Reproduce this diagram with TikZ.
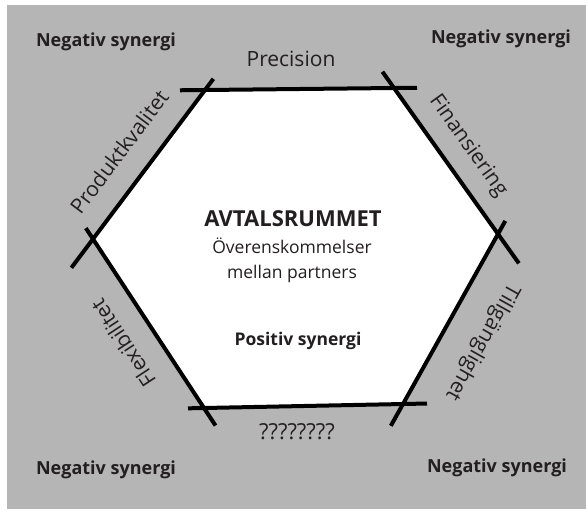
\documentclass[tikz,border=0pt]{standalone}
\usepackage{fontspec}
\setmainfont{Open Sans}
\definecolor{bg}{RGB}{181,181,181}
\definecolor{ink}{RGB}{35,31,32}
\begin{document}
\begin{tikzpicture}[x=1pt,y=-1pt,
  edge/.style={line width=4pt,line cap=butt},
  side/.style={font=\fontsize{21}{24}\selectfont,text=ink,inner sep=0pt},
  neg/.style={font=\bfseries\fontsize{18}{21}\selectfont,text=ink,inner sep=0pt},
]
\useasboundingbox (0,0) rectangle (586,515);
\fill[bg] (7,5) rectangle (586,509);
\coordinate (TL) at (205,90);
\coordinate (TR) at (394,88);
\coordinate (R) at (498,234);
\coordinate (BR) at (403,404);
\coordinate (BL) at (204,408);
\coordinate (L) at (93,239);
\fill[white] (TL)--(TR)--(R)--(BR)--(BL)--(L)--cycle;
\draw[edge,shorten <=-25pt,shorten >=-23pt] (TL) -- (TR);
\draw[edge,shorten <=-20pt,shorten >=-36pt] (TR) -- (R);
\draw[edge,shorten <=-15pt,shorten >=-25pt] (R) -- (BR);
\draw[edge,shorten <=-24pt,shorten >=-16pt] (BR) -- (BL);
\draw[edge,shorten <=-21pt,shorten >=-13pt] (BL) -- (L);
\draw[edge,shorten <=-36pt,shorten >=-14pt] (L) -- (TL);
\node[side] (prec) at (291,59) {Precision};
\node[side,rotate=53.1] (prod) at (119,152) {Produktkvalitet};
\node[side,rotate=-54.5] (fin) at (468,146) {Finansiering};
\node[side,rotate=-119.2] (till) at (482,342) {Tillgänglighet};
\node[side,rotate=123.3] (flex) at (123,343) {Flexibilitet};
\node[side,font=\fontsize{22}{24}\selectfont] (qq) at (297,432) {????????};
\node[neg] (n1) at (106,42) {Negativ synergi};
\node[neg] (n2) at (501,39) {Negativ synergi};
\node[neg] (n3) at (106,470) {Negativ synergi};
\node[neg] (n4) at (497,468) {Negativ synergi};
\node[font=\bfseries\fontsize{22}{24}\selectfont,text=ink,inner sep=0pt] (avt) at (293,219) {AVTALSRUMMET};
\node[font=\fontsize{17.5}{25}\selectfont,text=ink,inner sep=0pt,align=center,anchor=north] (ov) at (292,238) {Överenskommelser\\mellan partners};
\node[font=\bfseries\fontsize{17.5}{20}\selectfont,text=ink,inner sep=0pt] (pos) at (298,341) {Positiv synergi};
\end{tikzpicture}
\end{document}
